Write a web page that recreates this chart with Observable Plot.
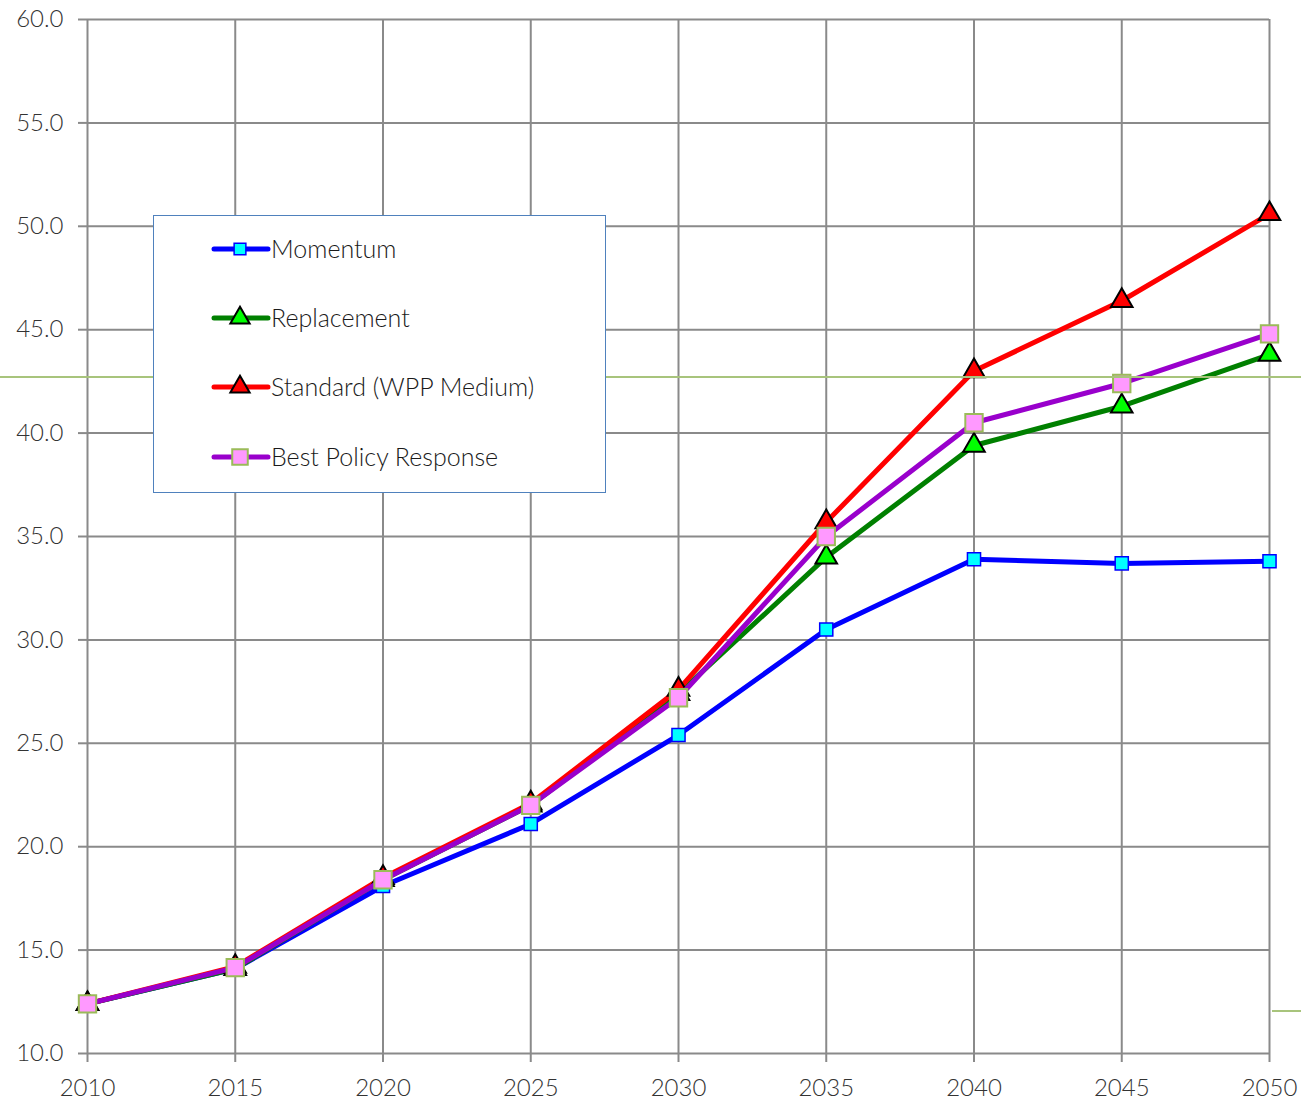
<!DOCTYPE html>
<html>
<head>
<meta charset="utf-8">
<script src="https://cdn.jsdelivr.net/npm/d3@7"></script>
<script src="https://cdn.jsdelivr.net/npm/@observablehq/plot@0.6"></script>
<style>
  html, body { margin: 0; padding: 0; background: #fff; }
  #wrap { position: relative; width: 1301px; height: 1104px; overflow: hidden; font-family: "Lato", "Open Sans", sans-serif; }
  #legend { position: absolute; left: 153px; top: 215px; width: 453px; height: 278px; border: 1.5px solid #4f81bd; background: #fff; box-sizing: border-box; }
  .stray-h { position: absolute; left: 0; width: 1301px; height: 2px; background: #a8c47c; }
</style>
</head>
<body>
<div id="wrap"></div>
<script>
// ---- data ----
const years = [2010, 2015, 2020, 2025, 2030, 2035, 2040, 2045, 2050];
const momentum    = [12.4, 14.1, 18.1, 21.1, 25.4, 30.5, 33.9, 33.7, 33.8];
const replacement = [12.4, 14.1, 18.4, 22.0, 27.4, 34.0, 39.4, 41.3, 43.8];
const standard    = [12.4, 14.2, 18.5, 22.1, 27.6, 35.7, 43.0, 46.4, 50.6];
const bestPolicy  = [12.4, 14.15, 18.4, 22.0, 27.2, 35.0, 40.5, 42.4, 44.8];
const seriesNames = ["Momentum", "Replacement", "Standard (WPP Medium)", "Best Policy Response"];
const yTicks = [10, 15, 20, 25, 30, 35, 40, 45, 50, 55, 60];
const xTicks = [2010, 2015, 2020, 2025, 2030, 2035, 2040, 2045, 2050];

const styles = [
  {line: "#0000ff", fill: "#00ffff", stroke: "#0000ff", symbol: "square", r: 7.4, sw: 1.5},
  {line: "#008000", fill: "#00ff00", stroke: "#000000", symbol: "triangle", r: 8, sw: 2},
  {line: "#ff0000", fill: "#ff0000", stroke: "#000000", symbol: "triangle", r: 8, sw: 2},
  {line: "#9900cc", fill: "#ff99ff", stroke: "#9bbb59", symbol: "square", r: 9.8, sw: 2}
];
const allSeries = [momentum, replacement, standard, bestPolicy];
const rows = allSeries.map((vals, i) => years.map((yr, j) => ({year: yr, value: vals[j], series: seriesNames[i]})));

const gridColor = "#8a8a8a";
const fontFam = "Lato, 'Open Sans', sans-serif";

const marks = [
  Plot.gridX(xTicks, {stroke: gridColor, strokeOpacity: 1, strokeWidth: 2}),
  Plot.gridY(yTicks, {stroke: gridColor, strokeOpacity: 1, strokeWidth: 2}),
  Plot.axisY(yTicks, {tickSize: 9, tickPadding: 15, tickFormat: d => d.toFixed(1), stroke: gridColor, strokeWidth: 2, fontSize: 24, fontWeight: 300, fill: "#333", label: null}),
  Plot.axisX(xTicks, {tickSize: 9, tickPadding: 16, tickFormat: d => String(d), stroke: gridColor, strokeWidth: 2, fontSize: 24, fontWeight: 300, fill: "#333", label: null})
];
rows.forEach((data, i) => {
  const s = styles[i];
  marks.push(Plot.line(data, {x: "year", y: "value", stroke: s.line, strokeWidth: 5, strokeLinejoin: "round", strokeLinecap: "round"}));
  marks.push(Plot.dot(data, {x: "year", y: "value", symbol: () => s.symbol, r: s.r, fill: s.fill, stroke: s.stroke, strokeWidth: s.sw, fillOpacity: 1}));
});

const chart = Plot.plot({
  width: 1301,
  height: 1104,
  marginLeft: 87,
  marginRight: 32,
  marginTop: 19,
  marginBottom: 51,
  style: {fontFamily: fontFam, background: "#fff", overflow: "visible"},
  x: {domain: [2010, 2050], axis: null},
  y: {domain: [10, 60], axis: null},
  symbol: {type: "identity"},
  marks
});
const wrap = document.getElementById("wrap");
wrap.appendChild(chart);

// stray lines present in the reference image
const h1 = document.createElement("div"); h1.className = "stray-h"; h1.style.top = "376px"; wrap.appendChild(h1);
const h2 = document.createElement("div"); h2.className = "stray-h"; h2.style.top = "1010px"; h2.style.left = "1272px"; h2.style.width = "29px"; wrap.appendChild(h2);

// legend
const legend = document.createElement("div"); legend.id = "legend"; wrap.appendChild(legend);
const lsvg = d3.select(legend).append("svg").attr("width", 453).attr("height", 278).style("position", "absolute").style("left", "-1.5px").style("top", "-1.5px");
const rowY = [34, 103, 172, 242];
seriesNames.forEach((name, i) => {
  const s = styles[i];
  const g = lsvg.append("g").attr("transform", `translate(0,${rowY[i]})`);
  g.append("line").attr("x1", 61).attr("x2", 115).attr("y1", 0).attr("y2", 0).attr("stroke", s.line).attr("stroke-width", 5).attr("stroke-linecap", "round");
  const area = Math.PI * s.r * s.r;
  const sym = s.symbol === "square" ? d3.symbolSquare : d3.symbolTriangle;
  g.append("path").attr("d", d3.symbol(sym, area * (s.symbol === "square" ? 0.8 : 0.8))()).attr("transform", "translate(87,0)")
    .attr("fill", s.fill).attr("stroke", s.stroke).attr("stroke-width", s.sw);
  g.append("text").attr("x", 118).attr("y", 0).attr("dy", "0.35em").attr("font-size", 25).attr("font-weight", 300).attr("font-family", fontFam).attr("fill", "#1a1a1a").text(name);
});
</script>
</body>
</html>
